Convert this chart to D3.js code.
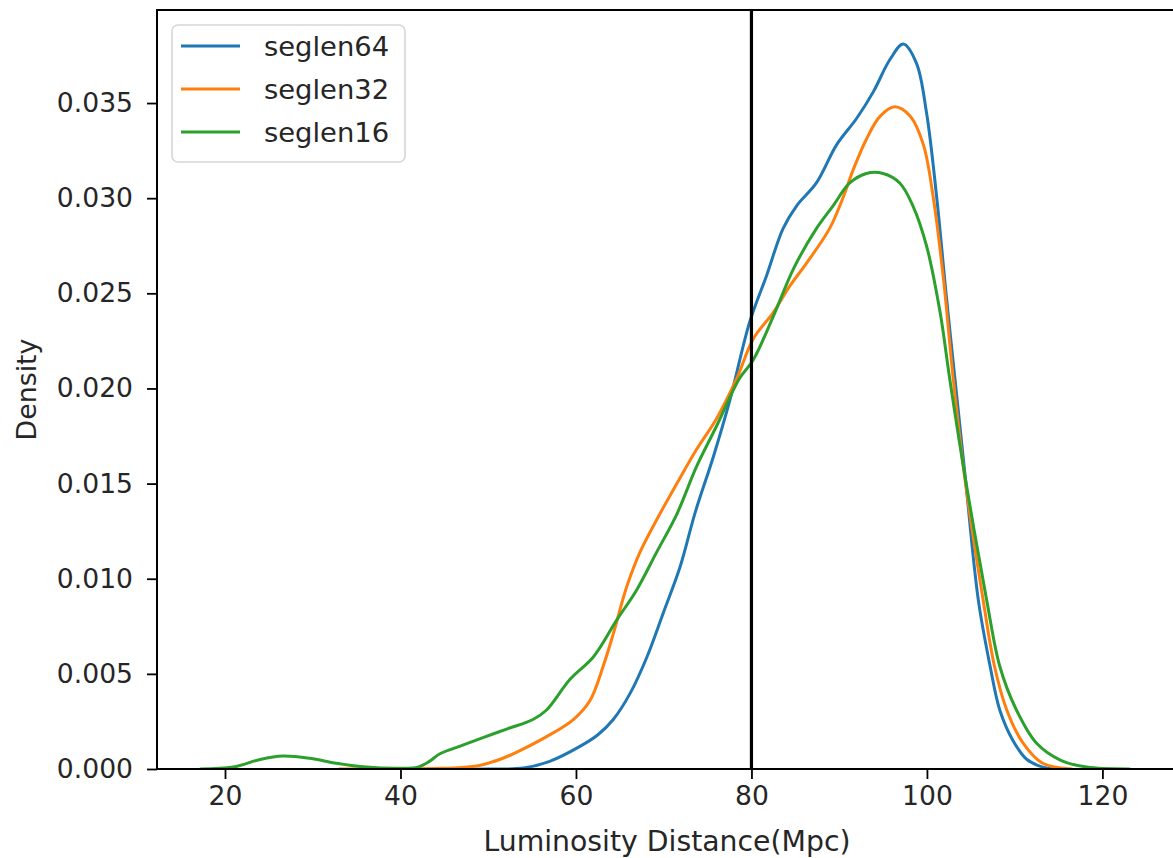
<!DOCTYPE html>
<html>
<head>
<meta charset="utf-8">
<script src="https://cdn.jsdelivr.net/npm/d3@7"></script>
<style>
  html, body { margin: 0; padding: 0; background: #fff; }
  svg { display: block; }
  text { font-family: "DejaVu Sans", sans-serif; fill: #262626; }
</style>
</head>
<body>
<svg id="chart" width="1173" height="858"></svg>
<script>
// Kernel density estimates of luminosity distance for three segment lengths
const seriesNames = ["seglen64", "seglen32", "seglen16"];
const seriesColors = ["#1f77b4", "#ff7f0e", "#2ca02c"];

const seglen64X = [38, 50, 54, 57, 60.5, 62.5, 64.25, 66.2, 68.1, 69.95, 71.85, 73.6, 75.65, 77.55, 79.8, 81.7, 83.6, 85.15, 87.4, 89.7, 92.0, 93.9, 95.8, 97.3, 98.8, 99.95, 101.1, 102.2, 103.4, 104.4, 105.85, 107.2, 108.3, 109.8, 111.4, 113.2, 114.5];
const seglen64Y = [0, 0, 0.00005, 0.0004, 0.0012, 0.0018, 0.0026, 0.0040, 0.0059, 0.0082, 0.0106, 0.0135, 0.0164, 0.0194, 0.0235, 0.0259, 0.0284, 0.0296, 0.0308, 0.0328, 0.0342, 0.0356, 0.0373, 0.0381, 0.0371, 0.0345, 0.0301, 0.0249, 0.0196, 0.0152, 0.0089, 0.0054, 0.0031, 0.0015, 0.0005, 0.0001, 0];

const seglen32X = [33, 40, 43.7, 47, 49.1, 51.3, 52.85, 56.65, 59.7, 61.6, 63.1, 64.25, 65.8, 67.3, 69.2, 71.5, 73.75, 76.0, 78.3, 80.2, 82.5, 84.4, 86.3, 88.9, 90.5, 91.6, 93.1, 94.65, 96.35, 98.1, 99.6, 100.7, 101.9, 103.0, 104.4, 106.4, 107.7, 109.1, 110.9, 113.2, 116.5];
const seglen32Y = [0, 0, 0.00003, 0.00008, 0.0002, 0.0005, 0.0008, 0.0017, 0.0026, 0.0036, 0.0054, 0.0071, 0.0096, 0.0114, 0.0131, 0.0150, 0.0168, 0.0184, 0.0205, 0.0226, 0.0240, 0.0254, 0.0266, 0.0284, 0.0301, 0.0315, 0.0331, 0.0343, 0.0348, 0.0343, 0.0328, 0.0301, 0.0257, 0.0205, 0.0150, 0.0089, 0.0054, 0.0031, 0.0014, 0.0003, 0];

const seglen16X = [17.2, 20.95, 24.0, 26.6, 29.7, 32.7, 36.1, 40.0, 42.0, 43.3, 44.5, 46.8, 49.1, 52.1, 55.1, 56.65, 59.3, 62.0, 64.6, 66.9, 69.2, 71.5, 73.75, 76.0, 78.6, 80.2, 82.5, 84.8, 87.4, 89.3, 91.2, 93.1, 95.0, 96.9, 98.4, 99.95, 101.5, 102.6, 104.4, 106.8, 108.3, 110.2, 112.5, 115.2, 118.2, 123.1];
const seglen16Y = [0, 0.0001, 0.0005, 0.00068, 0.00056, 0.0003, 0.0001, 0.00004, 0.0001, 0.0004, 0.0008, 0.0012, 0.0016, 0.0021, 0.0026, 0.0031, 0.0047, 0.0059, 0.0078, 0.0094, 0.0114, 0.0134, 0.0159, 0.0180, 0.0205, 0.0215, 0.0238, 0.0263, 0.0284, 0.0296, 0.0308, 0.0313, 0.0313, 0.0308, 0.0296, 0.0275, 0.0240, 0.0205, 0.0152, 0.0089, 0.0054, 0.0031, 0.00135, 0.00047, 0.0001, 0];

const xTicks = [20, 40, 60, 80, 100, 120];
const yTicks = [0, 0.005, 0.01, 0.015, 0.02, 0.025, 0.03, 0.035];
const markerX = 80;
const xLabel = "Luminosity Distance(Mpc)";
const yLabel = "Density";

const series = [
  { name: seriesNames[0], color: seriesColors[0], xs: seglen64X, ys: seglen64Y },
  { name: seriesNames[1], color: seriesColors[1], xs: seglen32X, ys: seglen32Y },
  { name: seriesNames[2], color: seriesColors[2], xs: seglen16X, ys: seglen16Y }
];

const svg = d3.select("#chart");
const plot = { left: 157, right: 1177, top: 10, bottom: 769 };

const x = d3.scaleLinear().domain([12.25, 128.5]).range([plot.left, plot.right]);
const y = d3.scaleLinear().domain([0, 0.03989]).range([plot.bottom, plot.top]);

svg.append("defs").append("clipPath").attr("id", "plotClip")
  .append("rect")
  .attr("x", plot.left).attr("y", plot.top - 2)
  .attr("width", plot.right - plot.left).attr("height", plot.bottom - plot.top + 3);

// density curves
const line = d3.line()
  .x(d => x(d[0]))
  .y(d => y(Math.max(0, d[1])))
  .curve(d3.curveCatmullRom.alpha(0.5));

const curves = svg.append("g").attr("clip-path", "url(#plotClip)");
series.forEach(s => {
  curves.append("path")
    .datum(s.xs.map((v, i) => [v, s.ys[i]]))
    .attr("fill", "none")
    .attr("stroke", s.color)
    .attr("stroke-width", 3)
    .attr("stroke-linejoin", "round")
    .attr("stroke-linecap", "round")
    .attr("d", line);
});

// reference line at 80 Mpc
svg.append("line")
  .attr("x1", x(markerX)).attr("x2", x(markerX))
  .attr("y1", plot.top).attr("y2", plot.bottom)
  .attr("stroke", "#000").attr("stroke-width", 3.2);

// axes
const xAxis = d3.axisBottom(x).tickValues(xTicks).tickSize(10).tickPadding(7).tickFormat(d3.format("d"));
const yAxis = d3.axisLeft(y).tickValues(yTicks).tickSize(10).tickPadding(14).tickFormat(d3.format(".3f"));

const gx = svg.append("g").attr("transform", `translate(0,${plot.bottom})`).call(xAxis);
const gy = svg.append("g").attr("transform", `translate(${plot.left},0)`).call(yAxis);
[gx, gy].forEach(g => {
  g.select(".domain").remove();
  g.selectAll(".tick line").attr("stroke", "#000").attr("stroke-width", 1.8);
  g.selectAll(".tick text").attr("font-size", 26.6).attr("fill", "#262626")
    .attr("font-family", "DejaVu Sans, sans-serif");
});

// frame
svg.append("rect")
  .attr("x", plot.left).attr("y", plot.top)
  .attr("width", plot.right - plot.left).attr("height", plot.bottom - plot.top)
  .attr("fill", "none").attr("stroke", "#000").attr("stroke-width", 2);

// axis titles
svg.append("text")
  .attr("x", (plot.left + plot.right) / 2).attr("y", 851)
  .attr("text-anchor", "middle").attr("font-size", 28.3)
  .text(xLabel);
svg.append("text")
  .attr("transform", `translate(36,${(plot.top + plot.bottom) / 2}) rotate(-90)`)
  .attr("text-anchor", "middle").attr("font-size", 26.8)
  .text(yLabel);

// legend
const legend = svg.append("g");
legend.append("rect")
  .attr("x", 172).attr("y", 25).attr("width", 233).attr("height", 137)
  .attr("rx", 6).attr("ry", 6)
  .attr("fill", "rgba(255,255,255,0.8)").attr("stroke", "#d6d6d6").attr("stroke-width", 1.6);
series.forEach((s, i) => {
  const ly = 46 + i * 43;
  legend.append("line")
    .attr("x1", 181).attr("x2", 240).attr("y1", ly).attr("y2", ly)
    .attr("stroke", s.color).attr("stroke-width", 3);
  legend.append("text")
    .attr("x", 264).attr("y", ly + 9.5).attr("font-size", 27.4)
    .text(s.name);
});
</script>
</body>
</html>
